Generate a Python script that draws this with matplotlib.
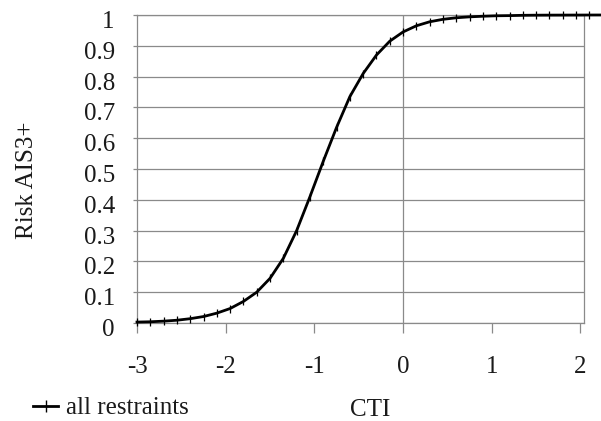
import matplotlib
matplotlib.use('Agg')
import matplotlib.pyplot as plt
import matplotlib.transforms as mtransforms
from matplotlib.lines import Line2D

# Risk AIS3+ curve as function of CTI
cti = [-3.0, -2.85, -2.7, -2.55, -2.4, -2.25, -2.1, -1.95, -1.8, -1.65,
       -1.5, -1.35, -1.2, -1.05, -0.9, -0.75, -0.6, -0.45, -0.3, -0.15,
       0.0, 0.15, 0.3, 0.45, 0.6, 0.75, 0.9, 1.05, 1.2, 1.35,
       1.5, 1.65, 1.8, 1.95, 2.1, 2.25]
risk = [0.003, 0.004, 0.006, 0.009, 0.014, 0.021, 0.032, 0.047, 0.07, 0.10,
        0.145, 0.21, 0.30, 0.41, 0.525, 0.635, 0.735, 0.81, 0.87, 0.915,
        0.945, 0.965, 0.978, 0.986, 0.991, 0.994, 0.996, 0.9975, 0.998, 0.999,
        0.9994, 0.9996, 0.9997, 0.9998, 0.9999, 1.0]

x_ticks = [-3, -2, -1, 0, 1, 2]
y_ticks = [0, 0.1, 0.2, 0.3, 0.4, 0.5, 0.6, 0.7, 0.8, 0.9, 1]
y_labels = ['0', '0.1', '0.2', '0.3', '0.4', '0.5', '0.6', '0.7', '0.8', '0.9', '1']

plt.rcParams['font.family'] = ['Liberation Serif', 'DejaVu Serif']
plt.rcParams['font.size'] = 18
plt.rcParams['axes.unicode_minus'] = False

cinza = '#8a8a8a'
texto = '#1a1a1a'

fig = plt.figure(figsize=(6.01, 4.21), dpi=100)
# area do grafico: x 137..584 px, y 15..323 px
ax = fig.add_axes([137 / 601, 1 - 323 / 421, (584 - 137) / 601, (323 - 15) / 421])

# grade horizontal e linha vertical em x=0
for yv in y_ticks:
    ax.axhline(yv, color=cinza, lw=0.9, zorder=1)
ax.axvline(0, color=cinza, lw=0.9, zorder=1)

ax.plot(cti, risk, color='black', lw=2, marker='|', markersize=6,
        markeredgewidth=0.9, clip_on=False, zorder=3)

ax.set_xlim(-3, 2.04)
ax.set_ylim(0, 1)
ax.set_xticks(x_ticks)
ax.set_xticklabels([str(v) for v in x_ticks], color=texto)
ax.set_yticks(y_ticks)
ax.set_yticklabels(y_labels, color=texto)

for s in ax.spines.values():
    s.set_color(cinza)
    s.set_linewidth(0.9)

ax.tick_params(axis='x', direction='out', length=7, width=0.9, color=cinza, pad=17)
ax.tick_params(axis='y', direction='out', length=3, width=0.9, color=cinza, pad=13)

# rotulos do eixo y ficam um pouco abaixo das linhas
desloc = mtransforms.ScaledTranslation(0, -4.5 / 100, fig.dpi_scale_trans)
for lbl in ax.get_yticklabels():
    lbl.set_transform(lbl.get_transform() + desloc)

fig.text(27 / 601, 1 - 180 / 421, 'Risk AIS3+', rotation=90, ha='center',
         va='center', color=texto)
fig.text(370 / 601, 1 - 410 / 421, 'CTI', ha='center', va='center', color=texto)

# legenda embaixo à esquerda
h = Line2D([], [], color='black', lw=2, marker='|', markersize=8, markeredgewidth=1)
leg = fig.legend(handles=[h], labels=['all restraints'], loc='center left',
                 bbox_to_anchor=(33 / 601, 1 - 408 / 421), frameon=False,
                 handlelength=1.0, handletextpad=0.3, borderaxespad=0, borderpad=0)
for t in leg.get_texts():
    t.set_color(texto)

fig.savefig('out.png', dpi=100)
